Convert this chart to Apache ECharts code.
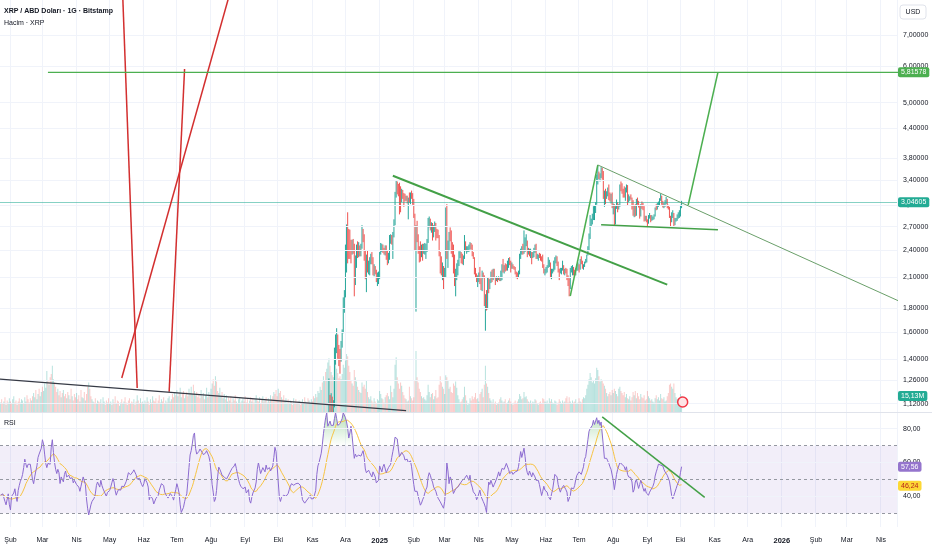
<!DOCTYPE html>
<html><head><meta charset="utf-8">
<script src="https://cdn.jsdelivr.net/npm/echarts@6/dist/echarts.min.js"></script>
<style>html,body{margin:0;padding:0;background:#fff}#c{width:932px;height:550px}</style>
</head><body><div id="c"></div>
<script>
// ---------- axis domain / tick labels ----------
const startDate = '2024-01-23';
const dayCount = 814;
const monthNames = ['Oca','Şub','Mar','Nis','May','Haz','Tem','Ağu','Eyl','Eki','Kas','Ara'];
const priceTicks = [7, 6, 5, 4.4, 3.8, 3.4, 3, 2.7, 2.4, 2.1, 1.8, 1.6, 1.4, 1.26, 1.12];
const rsiTicks = [80, 60, 40];
const rsiBands = [70, 50, 30];

// ---------- candles (daily, first visible candle 2024-11-16 = index 298) ----------
const candleStart = 298;
const firstOpen = 0.90;
const close = [
1.11,1.09,1.13,1.07,1.11,1.45,1.49,1.56,1.44,1.43,1.40,1.51,1.60,1.83,1.95,
2.40,2.58,2.57,2.52,2.43,2.40,2.48,2.45,2.08,2.24,2.43,2.36,2.44,2.38,2.45,2.63,2.55,2.30,2.28,2.34,2.21,2.21,2.26,2.34,2.28,2.16,2.17,2.14,2.06,2.06,2.08,
2.37,2.43,2.45,2.41,2.40,2.43,2.31,2.30,2.31,2.55,2.55,2.53,2.58,2.74,3.14,3.33,3.27,3.22,3.13,3.12,3.17,3.16,3.12,3.11,3.11,3.05,3.10,3.09,3.16,3.15,3.06,
2.84,2.46,2.62,2.58,2.40,2.36,2.34,2.41,2.40,2.40,2.42,2.44,2.49,2.78,2.78,2.68,2.73,2.57,2.70,2.74,2.64,2.62,2.58,2.38,2.31,2.19,2.21,2.14,
2.16,2.88,2.41,2.45,2.56,2.54,2.46,2.45,2.17,2.08,2.13,2.22,2.26,2.35,2.36,2.31,2.29,2.32,2.48,2.41,2.42,2.42,2.43,2.47,2.45,2.35,2.31,2.17,2.14,2.08,2.08,
2.13,2.05,2.02,2.14,2.11,1.86,1.87,1.80,2.09,1.98,2.05,2.14,2.08,2.13,2.10,2.07,2.09,2.08,2.09,2.07,2.11,2.21,2.20,2.21,2.20,2.19,2.26,2.29,2.25,2.22,
2.22,2.21,2.20,2.16,2.14,2.13,2.14,2.32,2.40,2.42,2.38,2.45,2.49,2.50,2.37,2.41,2.35,2.38,2.34,2.36,2.38,2.45,2.32,2.34,2.34,2.33,2.30,2.29,2.21,2.17,2.17,
2.19,2.21,2.24,2.25,2.13,2.16,2.17,2.27,2.29,2.29,2.24,2.18,2.16,2.17,2.18,2.20,2.17,2.17,2.16,2.10,2.06,2.00,2.18,2.18,2.20,2.16,2.13,2.18,2.22,2.24,
2.19,2.28,2.27,2.22,2.23,2.26,2.27,2.34,2.43,2.58,2.75,2.77,2.84,2.92,2.93,3.03,3.44,3.53,3.46,3.46,3.56,3.53,3.15,3.17,3.16,3.17,3.26,3.11,3.09,3.11,2.97,
2.99,2.78,2.98,3.02,2.97,3.00,3.31,3.27,3.20,3.17,3.16,3.24,3.28,3.09,3.10,3.12,3.11,3.06,2.87,2.99,2.86,3.09,3.03,3.00,2.86,3.01,3.00,2.97,2.82,2.83,2.78,
2.77,2.84,2.85,2.80,2.81,2.82,2.85,2.96,2.95,3.02,3.02,3.09,3.14,3.03,2.99,3.01,3.03,3.09,2.98,2.97,2.85,2.77,2.86,2.88,2.76,2.80,2.81,2.86,2.86,2.86,
2.98,3.04605];
const high = [
1.27,1.17,1.18,1.16,1.14,1.48,1.58,1.63,1.58,1.50,1.47,1.53,1.62,1.90,1.97,
2.47,2.73,2.90,2.67,2.66,2.53,2.53,2.54,2.48,2.34,2.47,2.51,2.50,2.46,2.48,2.72,2.67,2.60,2.40,2.35,2.40,2.28,2.32,2.36,2.38,2.32,2.24,2.22,2.18,2.15,2.16,
2.38,2.49,2.48,2.47,2.43,2.46,2.46,2.40,2.37,2.59,2.60,2.59,2.63,2.80,3.21,3.40,3.38,3.34,3.36,3.30,3.26,3.24,3.19,3.18,3.15,3.15,3.12,3.20,3.20,3.23,3.19,
3.10,2.88,2.72,2.78,2.60,2.45,2.51,2.47,2.48,2.48,2.49,2.48,2.54,2.82,2.84,2.81,2.76,2.75,2.72,2.77,2.75,2.67,2.66,2.59,2.38,2.33,2.26,2.22,
2.20,2.97,3.02,2.52,2.63,2.69,2.65,2.50,2.47,2.35,2.19,2.25,2.29,2.39,2.39,2.38,2.36,2.34,2.59,2.51,2.45,2.45,2.47,2.50,2.49,2.47,2.38,2.32,2.20,2.14,2.12,
2.15,2.21,2.09,2.17,2.15,2.12,1.93,1.97,2.10,2.09,2.08,2.16,2.18,2.19,2.19,2.10,2.11,2.10,2.11,2.10,2.17,2.24,2.30,2.23,2.25,2.24,2.28,2.31,2.32,2.28,
2.26,2.24,2.22,2.21,2.16,2.15,2.17,2.36,2.42,2.45,2.48,2.65,2.56,2.60,2.52,2.43,2.42,2.42,2.38,2.38,2.43,2.47,2.48,2.36,2.35,2.37,2.36,2.33,2.35,2.24,2.19,
2.21,2.23,2.32,2.29,2.26,2.19,2.19,2.28,2.32,2.34,2.33,2.27,2.19,2.20,2.20,2.28,2.23,2.19,2.20,2.19,2.12,2.09,2.20,2.22,2.23,2.21,2.18,2.20,2.24,2.26,
2.24,2.30,2.33,2.28,2.24,2.27,2.30,2.35,2.45,2.61,2.86,2.81,2.88,2.99,3.00,3.05,3.50,3.66,3.55,3.52,3.63,3.62,3.56,3.23,3.26,3.22,3.28,3.33,3.20,3.18,3.20,
3.03,3.02,2.99,3.09,3.05,3.02,3.33,3.38,3.35,3.26,3.30,3.28,3.33,3.32,3.17,3.14,3.17,3.12,3.08,3.00,3.02,3.10,3.12,3.07,3.01,3.02,3.06,3.04,2.99,2.85,2.85,
2.80,2.86,2.89,2.86,2.86,2.84,2.87,2.97,3.02,3.04,3.06,3.11,3.18,3.15,3.07,3.04,3.08,3.13,3.10,3.01,2.98,2.85,2.90,2.93,2.89,2.82,2.82,2.87,2.90,2.93,
3.01,3.07];
const low = [
0.89,1.02,1.03,1.05,1.05,1.10,1.36,1.44,1.40,1.35,1.30,1.38,1.48,1.59,1.76,
1.90,2.15,2.25,2.30,2.30,2.25,2.35,2.36,1.91,2.02,2.20,2.31,2.32,2.33,2.33,2.42,2.50,2.28,2.08,1.95,2.15,2.13,2.12,2.24,2.24,2.12,2.11,2.13,2.05,2.01,2.03,
2.08,2.35,2.38,2.37,2.35,2.34,2.29,2.23,2.25,2.29,2.48,2.47,2.30,2.56,2.72,3.12,3.17,3.14,2.87,2.90,3.05,3.10,2.98,3.06,3.07,3.03,2.80,3.04,3.02,3.10,3.01,
2.82,2.40,1.77,2.50,2.36,2.26,2.27,2.32,2.28,2.36,2.35,2.30,2.38,2.49,2.69,2.65,2.62,2.52,2.56,2.63,2.52,2.55,2.55,2.33,2.14,2.12,2.07,1.98,
2.10,2.10,2.30,2.20,2.40,2.51,2.36,2.32,2.14,2.01,1.91,2.07,2.12,2.22,2.31,2.25,2.24,2.23,2.30,2.39,2.36,2.38,2.38,2.41,2.41,2.33,2.30,2.13,2.10,2.05,2.00,
2.05,2.03,1.97,1.96,2.09,1.82,1.61,1.78,1.79,1.94,1.98,2.04,2.05,2.07,2.09,2.02,2.06,2.05,2.07,2.06,2.06,2.07,2.15,2.14,2.16,2.17,2.17,2.20,2.23,2.15,
2.19,2.19,2.18,2.13,2.09,2.08,2.10,2.13,2.30,2.35,2.35,2.36,2.38,2.45,2.32,2.35,2.33,2.31,2.24,2.31,2.32,2.37,2.30,2.30,2.28,2.31,2.28,2.27,2.20,2.14,2.12,
2.14,2.15,2.20,2.21,2.09,2.08,2.14,2.16,2.18,2.25,2.22,2.15,2.07,2.14,2.13,2.17,2.13,2.12,2.14,2.07,2.01,1.91,1.98,2.15,2.12,2.12,2.11,2.12,2.17,2.17,
2.15,2.18,2.24,2.19,2.18,2.21,2.25,2.26,2.34,2.40,2.54,2.70,2.73,2.79,2.79,2.89,3.01,3.33,3.42,3.38,3.44,3.41,3.10,2.98,3.02,3.10,3.14,3.08,3.06,3.03,2.96,
2.87,2.72,2.73,2.95,2.90,2.94,2.98,3.22,3.18,3.12,3.12,3.07,3.20,3.00,3.05,3.07,3.09,2.94,2.85,2.83,2.84,2.85,3.01,2.97,2.81,2.84,2.95,2.93,2.77,2.78,2.76,
2.70,2.74,2.81,2.76,2.78,2.79,2.80,2.84,2.93,2.94,2.98,3.00,3.07,3.01,2.97,2.96,2.98,3.02,2.96,2.94,2.82,2.69,2.76,2.82,2.69,2.72,2.77,2.78,2.81,2.82,
2.84,2.96];

// ---------- volume (millions XRP), index 0 = 2024-01-23 ----------
const volume = [
9,12,8,10,14,7,11,9,13,10, 8,12,15,9,11,7,10,13,9,12, 11,8,14,10,16,12,9,13,11,15,
18,14,21,12,17,22,15,19,24,20, 27,23,39,30,26,33,36,44,31,28, 24,19,22,16,20,14,18,21,15,17,
13,19,16,12,22,15,11,17,14,18, 12,16,10,21,14,13,19,11,17,24, 28,22,15,12,10,9,13,8,11,10,
9,12,8,14,10,7,11,9,13,8, 10,7,12,9,15,8,11,10,6,9, 12,8,10,14,9,7,11,13,8,10,
9,12,7,10,16,11,8,13,9,10, 8,11,9,14,10,7,12,9,15,11, 10,13,8,11,16,9,12,10,14,8,
11,9,13,15,10,12,17,14,19,16, 21,15,18,23,14,17,20,13,16,19, 15,22,18,24,17,26,20,16,19,14,
17,13,21,15,18,12,16,23,14,19, 16,22,27,31,25,34,29,20,18,23, 15,19,13,17,12,16,10,14,11,15,
9,13,11,16,10,8,12,14,9,11, 13,10,15,9,12,8,11,14,10,13, 9,12,16,11,10,14,8,12,15,10,
11,14,9,13,10,16,12,15,19,17, 21,15,22,18,20,14,12,16,11,13, 9,12,8,11,10,7,13,9,12,8,
10,11,7,9,12,8,14,10,9,13, 11,8,12,10,15,13,17,14,20,18, 24,21,28,34,30,38,41,47,51,44,
38,35,33,43,46,41,37,32,34,31, 36,45,42,49,55,53,44,38,30,27, 25,40,33,29,24,21,19,18,28,24,
26,22,30,19,14,12,15,11,9,13, 10,8,12,11,20,17,13,12,9,14, 16,18,15,12,25,19,14,22,45,52,
33,27,22,28,25,19,16,13,12,10, 11,24,15,13,11,14,30,58,33,28, 22,19,15,13,14,12,11,16,26,19,
14,17,18,12,15,21,13,14,26,34, 28,24,22,17,35,33,30,22,24,19, 18,27,25,29,23,16,12,9,10,12,
14,24,16,11,7,8,13,11,15,12, 14,18,12,13,10,17,19,22,14,26, 44,27,24,18,13,11,9,12,8,10,
7,8,9,12,14,11,9,10,12,8, 9,11,13,10,8,7,9,11,8,10, 12,17,15,12,13,19,14,15,12,10,
9,11,8,10,9,12,11,8,7,9, 10,8,13,12,10,9,11,8,13,10, 12,9,8,11,10,7,9,12,10,8,
11,9,10,13,15,9,14,10,8,11, 9,10,12,8,9,13,10,9,12,14, 13,16,22,26,31,37,33,28,30,27,
32,42,40,34,29,31,30,27,25,22, 18,15,17,19,16,21,18,22,20,17, 15,22,24,20,18,16,19,14,17,13,
12,15,11,14,19,16,20,13,18,15, 12,17,14,13,16,11,12,20,15,13, 11,12,10,9,13,16,12,14,11,17,
13,12,14,10,11,15,18,26,27,24, 22,27,18,14,12,13,11,17,15.13];
// up/down colouring of volume bars before the first visible candle
const preCandleDir = ['uddududuud','duuddudduu','uduuddudud','uuduuduudu','uuududduud','dduddududd',
'ududdudddu','dduduududd','udduudduud','duduuddudu','ududdudduu','duudduddud','dudduddudu',
'uududdudud','ddudduuddu','uduududdud','uuduudduud','duduuduudd','ddududuudu','duuddudduu',
'uduuduudud','dudduduudu','udduddudud','duudduddud','uduududdud','dduddudduu','uduudduddu',
'dudduuduud','uuudduuduu','uuduuduu'].join('');

// ---------- RSI(14), index 0 = 2024-01-23 ----------
const rsi = [
40.7,41,41.5,41.5,37,35,36,41.5,35,32, 40,41,42,44.5,40,37,43.5,46.5,49,50.5,
53,57,62,59,57,59,60,59,54.5,50, 47.5,51.5,55,58,63,65,65.5,68.5,73.5,71,
65,59.5,57,59.5,60,59,69,73.5,66,60, 56,53.5,56,54,47.6,51.5,52.5,48.6,53,55,
51.5,52,52.5,50.6,51,51,48,49.5,50,47, 46,45.5,43,46,49,51.5,50.5,47,38.5,33,
29,32,35,37,37.8,39,41.5,46.5,48.5,49, 45.5,49.5,46.5,44.5,43.5,41.5,40,42.3,42.5,43.5,
45.5,48,50.5,48.5,43.5,40.7,42.5,44,44.5,43.7, 46,47,45.8,47.3,48.8,51,54,53.5,52.8,53.3,
54.5,55.7,56.4,52.8,50.2,50,50.7,51.3,47,45.8, 47.5,50.5,50,48,45.5,38,40.5,41,38.5,35.5,
34.5,38.8,39,40.5,43.6,43.3,47.5,48,46.4,42.5, 41,41.6,39,39,41.7,41,40,37.8,41,44,
47.5,45.2,42,35,30.5,29.5,33.5,36.8,39.5,41.5, 49,57,64.5,67,71,76,77.5,68.3,65,65.5,
66.6,68,67.3,66,64.7,65,65.6,67,66,63.8, 60.6,54.5,47,42.5,37,38.5,43.5,51.5,57.3,56,
54.4,52.5,51.8,51.5,51.5,50.2,50.5,52.6,54,55, 56.5,57,58,59.4,56.5,53,50,47.5,
46,45.5,44.5,45.5,45.5,42,43,44,37.5,36, 39.5,42,43.5,45,48.5,56,60,56.5,53.5,54.5,
57,57.5,54.5,58.5,56,57,57,55,55.5,58, 63,69,66.5,58,48.5,39.5,37,39.5,40.5,40.7,
39.8,40,40.7,41.7,44,46,47.5,47,46.6,46.6, 47.5,48.6,47.8,47,46.6,42.5,38,37,36,36,
37.8,38.5,39.5,40.7,38.5,38.5,38.7,39.5,43.5,53, 58,60,60.4,65.5,70.5,77,82,86.5,89.5,81.5,
83,84.5,82,81,82,86,89.5,86,82,82, 83,84.5,86,89.5,88.5,86.5,84,80.5,74.5,77.5,
81.5,76,69,62.5,65,63.5,63.5,64.4,63.5,63.8, 65.4,67,63,56.2,54,55,55.5,54,53,51.5,
54.5,54,51.5,48,48,49.5,58,58.5,54.5,57.5, 59,58.5,54,53,57,56.5,59,63,66.5,70,
75,75.8,74,68,63.5,64.5,66,65,64,61.5, 61.5,62,60,59.5,61,57.5,52,47,43,42.5,
43,40,37.5,34.8,36,38,39.5,42,44,45.5, 51.5,54,52.5,50,48.5,45.6,44.5,43,40.7,39,
38,36.8,35.5,34.5,33,37,45,60,55,47.5, 51.5,50,45,41.7,42.5,44.5,44.7,45.5,46.5,47.5,
48.5,49.5,48.5,50.5,51.5,52.5,51,49.5,52.5,
47.5,45.5,42.7,42,41,38,39.5,40.5,43.7,40, 38.5,37,35.5,33.5,30.5,41,48.5,47,49.5,50.5,
45.5,47,48.5,49.5,52,54.5,52,54,56.5,57.5, 56,55,59.5,58.5,56,53.5,54,54.5,53,53.5,
54.5,53.5,55,57.5,62,66.5,63,64,68.5,63.5, 57,54,52.5,55,55,51.5,54,54.5,51.5,49.5,
48.5,49.5,47,46,40.5,43,46,43.7,42.8,42.5, 40,39,38,41.5,44,45,53,52,51.5,47,
44.5,42.5,44.5,45.5,46.5,45.5,44,42.5,37,36, 40.5,45,45.5,44.5,46.5,50,52.5,53.5,54.5,55.5,
53,52.5,57.5,62,63.5,68.3,73.5,78.5,80,80, 82,85,82.5,83,86.5,83,85,82,84,83.5,
70,62.5,63.5,62.5,61,59.5,57.5,56,55.5,49.5, 44,45,53,56,56.5,60,60,59,59.5,57.5,
55.5,57.5,53,51.5,52.5,51,48.5,42.5,44,48.5, 50,50.5,44.7,47,49.5,47.5,45,43,44.7,42,
41.5,40.7,42.5,43.7,43.7,46,48,52,54.5,56.5, 59,59.5,58.5,59.5,58,56,54.5,53.5,52.5,51.5,
49,45,40.5,38.5,37.5,42.5,44.5,46.5,46.5,50, 54,57.56];

// ---------- last-value labels ----------
const lastPrice = 3.04605, targetPrice = 5.81578, lastVolume = 15.13, lastRsi = 57.56, lastRsiMa = 46.24;

// ---------- hand drawings: [date, price] pairs ----------
const redLines = [
  [['2024-05-12', 9.67], ['2024-05-26', 1.211]],
  [['2024-05-12', 1.273], ['2024-08-24', 9.67]],
  [['2024-06-24', 1.189], ['2024-07-08', 5.91]]
];
const blackLine = [['2024-01-04', 1.276], ['2025-01-25', 1.0817]];
const targetLine = [['2024-03-06', 5.81578], ['2026-06-01', 5.81578]];
const trendDown = [['2025-01-13', 3.478], ['2025-09-19', 2.024]];
const flagPole = [['2025-06-23', 1.913], ['2025-07-18', 3.669]];
const flagTop = [['2025-07-18', 3.669], ['2026-05-06', 1.781]];
const flagBottom = [['2025-07-21', 2.727], ['2025-11-04', 2.659]];
const projection = [['2025-10-08', 3.007], ['2025-11-04', 5.81578]];
const rsiTrend = [['2025-07-22', 87.0], ['2025-10-23', 39.4]];

// ================= build =================
const FF = "'Liberation Sans', Arial, sans-serif";
const FS = 7;
const DAY = 86400000;
const utc = s => { const p = s.split('-').map(Number); return Date.UTC(p[0], p[1]-1, p[2]); };
const t0 = utc(startDate);
const dates = [];
for (let i = 0; i < dayCount; i++) dates.push(new Date(t0 + i*DAY).toISOString().slice(0,10));
const tMin = t0 - DAY/2, tMax = t0 + (dayCount - 0.5)*DAY;
const monthStart = (idx) => dates[idx] && dates[idx].slice(8) === '01';
const fmt = (v, n) => v.toFixed(n).replace('.', ',');

const ohlc = volume.map((_, i) => {
  if (i < candleStart) return '-';
  const k = i - candleStart;
  const o = k === 0 ? firstOpen : close[k-1];
  return [o, close[k], low[k], high[k]];
});
const UP = '#26a69a', DOWN = '#ef5350';
const volItems = volume.map((v, i) => {
  const up = i < candleStart ? preCandleDir[i] === 'u' : ohlc[i][1] >= ohlc[i][0];
  return { value: v, itemStyle: { color: up ? 'rgba(38,166,154,0.33)' : 'rgba(239,83,80,0.30)' } };
});
const rsiMa = rsi.map((v, i) => {
  const s = rsi.slice(Math.max(0, i - 13), i + 1);
  return +(s.reduce((a, b) => a + b, 0) / s.length).toFixed(2);
});
const obBase = rsi.map(() => 70);
const obExcess = rsi.map(v => Math.max(v - 70, 0));

const pts = arr => arr.map(p => [utc(p[0]), p[1]]);
function drawLine(arr, color, width, xi, yi, z) {
  return { type: 'line', xAxisIndex: xi, yAxisIndex: yi, data: pts(arr), symbol: 'none', silent: true,
    clip: true, z: z || 6, lineStyle: { color: color, width: width }, animation: false };
}
const HIDDEN = { color: 'rgba(0,0,0,0)', width: 1, type: 'solid' };
const boxLabel = (bg, fg, text) => ({ show: true, position: 'end', distance: 1, formatter: text,
  backgroundColor: bg, color: fg, padding: [2, 3, 1, 3], borderRadius: 2, fontSize: FS, fontFamily: FF, opacity: 1 });

const chart = echarts.init(document.getElementById('c'));
const option = {
  animation: false,
  backgroundColor: '#ffffff',
  textStyle: { fontFamily: FF },
  title: [
    { text: 'XRP / ABD Doları · 1G · Bitstamp', left: 4, top: 8, padding: 0, textStyle: { fontSize: FS, fontWeight: 'bold', color: '#131722', fontFamily: FF } },
    { text: 'Hacim · XRP', left: 4, top: 20, padding: 0, textStyle: { fontSize: FS, fontWeight: 'normal', color: '#131722', fontFamily: FF } },
    { text: 'RSI', left: 4, top: 420, padding: 0, textStyle: { fontSize: FS, fontWeight: 'normal', color: '#131722', fontFamily: FF } }
  ],
  grid: [
    { left: 0, top: 0, width: 897, height: 412 },
    { left: 0, top: 332, width: 897, height: 80 },
    { left: 0, top: 413, width: 897, height: 114 }
  ],
  xAxis: [
    { type: 'category', gridIndex: 0, data: dates, boundaryGap: true, axisLine: { show: false }, axisTick: { show: false },
      axisLabel: { show: false }, splitLine: { show: true, interval: (i) => monthStart(i), lineStyle: { color: '#f0f3fa', width: 1 } } },
    { type: 'time', gridIndex: 0, min: tMin, max: tMax, show: false },
    { type: 'category', gridIndex: 1, data: dates, boundaryGap: true, show: false },
    { type: 'category', gridIndex: 2, data: dates, boundaryGap: true, axisLine: { show: false }, axisTick: { show: false },
      axisLabel: { show: true, interval: (i) => monthStart(i), margin: 10, fontSize: FS, color: '#131722', fontFamily: FF,
        formatter: (v) => { const m = +v.slice(5,7); return m === 1 ? '{y|' + v.slice(0,4) + '}' : monthNames[m-1]; },
        rich: { y: { fontWeight: 'bold', fontSize: FS + 0.5, color: '#131722', fontFamily: FF } } },
      splitLine: { show: true, interval: (i) => monthStart(i), lineStyle: { color: '#f0f3fa', width: 1 } } },
    { type: 'time', gridIndex: 2, min: tMin, max: tMax, show: false }
  ],
  yAxis: [
    { type: 'log', logBase: 10, gridIndex: 0, min: 1.0748, max: 8.330, show: false },
    { type: 'value', gridIndex: 1, min: 0, max: 76, show: false },
    { type: 'value', gridIndex: 2, min: 21.9, max: 89.3, show: false }
  ],
  graphic: [
    { type: 'line', shape: { x1: 0, y1: 412.5, x2: 932, y2: 412.5 }, style: { stroke: '#e0e3eb', lineWidth: 1 }, silent: true, z: 50 },
    { type: 'rect', shape: { x: 900, y: 5, width: 26, height: 14, r: 3 }, style: { fill: '#fff', stroke: '#e0e3eb', lineWidth: 1 }, silent: true, z: 50 },
    { type: 'text', x: 913, y: 12, style: { text: 'USD', fill: '#131722', font: '7px ' + FF, textAlign: 'center', textVerticalAlign: 'middle' }, silent: true, z: 51 }
  ],
  series: [
    // price grid lines + price scale labels
    { type: 'line', xAxisIndex: 1, yAxisIndex: 0, data: [[tMin, 2]], showSymbol: false, silent: true, z: 0,
      lineStyle: { width: 0, opacity: 0 },
      markLine: { silent: true, symbol: ['none','none'], animation: false,
        lineStyle: { color: '#f0f3fa', width: 1, type: 'solid' },
        label: { show: true, position: 'end', distance: 6, color: '#131722', fontSize: FS, fontFamily: FF },
        data: priceTicks.map(v => ({ yAxis: v, label: { formatter: fmt(v, 5) } })) } },
    // volume
    { type: 'bar', xAxisIndex: 2, yAxisIndex: 1, data: volItems, barWidth: 1, silent: true, z: 1,
      markPoint: { silent: true, animation: false, data: [{ coord: [dates[619], 9.5], symbol: 'circle', symbolSize: 10,
        itemStyle: { color: '#fde4e6', borderColor: '#f23645', borderWidth: 1.5 }, label: { show: false } }] } },
    // volume last-value label (drawn above price scale labels)
    { type: 'line', xAxisIndex: 2, yAxisIndex: 1, data: [[dates[0], 0]], showSymbol: false, silent: true, z: 8,
      lineStyle: { width: 0, opacity: 0 },
      markLine: { silent: true, symbol: ['none','none'], animation: false, lineStyle: HIDDEN,
        data: [{ yAxis: lastVolume, label: boxLabel('#22ab94', '#fff', fmt(lastVolume, 2) + 'M') }] } },
    // candles
    { type: 'candlestick', xAxisIndex: 0, yAxisIndex: 0, data: ohlc, barWidth: 1, clip: true, silent: true, z: 3,
      itemStyle: { color: UP, color0: DOWN, borderColor: UP, borderColor0: DOWN, borderWidth: 1 } },
    // drawings
    ...redLines.map(l => drawLine(l, '#d32f2f', 1.5, 1, 0)),
    drawLine(blackLine, '#363a45', 1.2, 1, 0),
    drawLine(trendDown, '#43a047', 2, 1, 0),
    drawLine(flagPole, '#4caf50', 1.5, 1, 0),
    drawLine(flagTop, '#6a9f6a', 1, 1, 0),
    drawLine(flagBottom, '#43a047', 1.5, 1, 0),
    drawLine(projection, '#4caf50', 1.5, 1, 0),
    Object.assign(drawLine(targetLine, '#4caf50', 1.3, 1, 0, 7), {
      markLine: { silent: true, symbol: ['none','none'], animation: false,
        data: [
          { yAxis: lastPrice, lineStyle: { color: 'rgba(34,171,148,0.55)', width: 1, type: 'solid' }, label: boxLabel('#22ab94', '#fff', fmt(lastPrice, 5)) },
          { yAxis: targetPrice, lineStyle: HIDDEN, label: boxLabel('#4caf50', '#fff', fmt(targetPrice, 5)) }
        ] } }),
    // RSI band, band lines, grid lines, tick labels
    { type: 'line', xAxisIndex: 3, yAxisIndex: 2, data: obBase, stack: 'ob', showSymbol: false, silent: true, z: 1,
      lineStyle: { width: 0, opacity: 0 },
      markArea: { silent: true, itemStyle: { color: 'rgba(126,87,194,0.10)' }, data: [[{ yAxis: 30 }, { yAxis: 70 }]] },
      markLine: { silent: true, symbol: ['none','none'], animation: false,
        data: [
          ...rsiBands.map(v => ({ yAxis: v, lineStyle: { color: '#9598a1', width: 1, type: [3, 3] }, label: { show: false } })),
          ...rsiTicks.map(v => ({ yAxis: v, lineStyle: { color: '#f0f3fa', width: 1, type: 'solid' },
            label: { show: true, position: 'end', distance: 6, formatter: fmt(v, 2), color: '#131722', fontSize: FS, fontFamily: FF } }))
        ] } },
    { type: 'line', xAxisIndex: 3, yAxisIndex: 2, data: obExcess, stack: 'ob', showSymbol: false, silent: true, z: 2,
      lineStyle: { width: 0, opacity: 0 },
      areaStyle: { color: new echarts.graphic.LinearGradient(0, 414, 0, 446, [
        { offset: 0, color: 'rgba(76,175,80,0.55)' }, { offset: 1, color: 'rgba(76,175,80,0.0)' }], true) } },
    { type: 'line', xAxisIndex: 3, yAxisIndex: 2, data: rsiMa, showSymbol: false, silent: true, z: 3,
      lineStyle: { color: '#f6c343', width: 1 },
      markLine: { silent: true, symbol: ['none','none'], animation: false, lineStyle: HIDDEN,
        data: [{ yAxis: lastRsiMa, label: boxLabel('#fdd835', '#b71c1c', fmt(lastRsiMa, 2)) }] } },
    { type: 'line', xAxisIndex: 3, yAxisIndex: 2, data: rsi, showSymbol: false, silent: true, z: 4,
      lineStyle: { color: '#8c6bd0', width: 1 },
      markLine: { silent: true, symbol: ['none','none'], animation: false, lineStyle: HIDDEN,
        data: [{ yAxis: lastRsi, label: boxLabel('#9575cd', '#fff', fmt(lastRsi, 2)) }] } },
    drawLine(rsiTrend, '#43a047', 1.5, 4, 2, 6)
  ]
};
chart.setOption(option);
</script>
</body></html>
